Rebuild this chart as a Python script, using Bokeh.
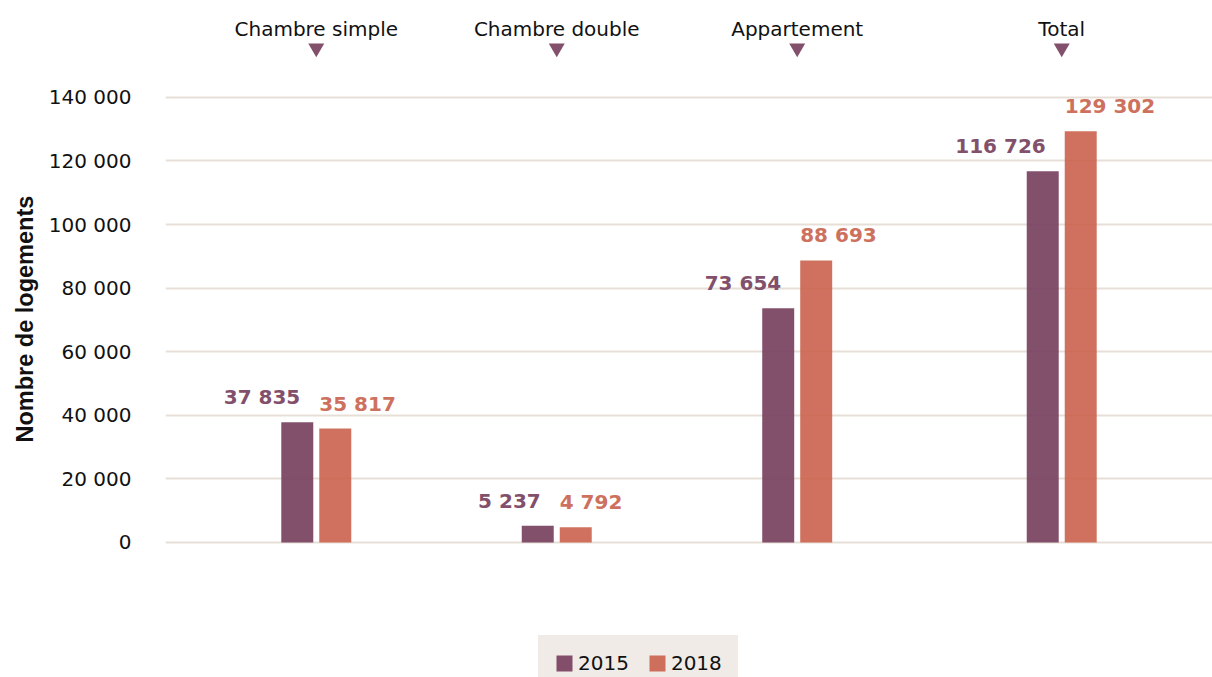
from bokeh.plotting import figure
from bokeh.models import (FactorRange, Range1d, FixedTicker, Legend, LegendItem,
                          ColumnDataSource, Title)
from bokeh.transform import dodge
from bokeh.core.properties import value
from bokeh.embed import file_html
from bokeh.resources import INLINE

# ---------------- data ----------------
categories = ["Chambre simple", "Chambre double", "Appartement", "Total"]
groups = ["Détail", "Détail", "Détail", "Ensemble"]
years = ["2015", "2018"]
values_2015 = [37835, 5237, 73654, 116726]
values_2018 = [35817, 4792, 88693, 129302]
y_ticks = [0, 20000, 40000, 60000, 80000, 100000, 120000, 140000]
y_tick_labels = ["0", "20 000", "40 000", "60 000", "80 000", "100 000",
                 "120 000", "140 000"]
y_title = "Nombre de logements"


def fmt(v):
    return f"{v:,}".replace(",", " ")


factors = list(zip(groups, categories))
src = ColumnDataSource(dict(
    x=factors,
    v15=values_2015,
    v18=values_2018,
    l15=[fmt(v) for v in values_2015],
    l18=[fmt(v) for v in values_2018],
))

# ---------------- styles ----------------
C15_BAR = "#763d5c"
C18_BAR = "#ca624d"
C15_TXT = "#83506b"
C18_TXT = "#cd715e"
GRID = "#e7dfd7"
LEG_BG = "#f0ebe6"
FONT = "DejaVu Sans"

x_range = FactorRange(*factors, group_padding=0.1, range_padding=0.127,
                      range_padding_units="absolute")

p = figure(width=1212, height=677, x_range=x_range,
           y_range=Range1d(-42460, 157880), x_axis_location="above",
           output_backend="svg", toolbar_location=None,
           min_border_left=165, min_border_right=0, min_border_top=40,
           min_border_bottom=0)
p.outline_line_color = None
p.xgrid.grid_line_color = None
p.ygrid.grid_line_color = GRID
p.ygrid.grid_line_width = 2

BAR_W = 0.133
OFF = 0.079

r15 = p.vbar(x=dodge("x", -OFF, range=p.x_range), top="v15", bottom=0,
             width=BAR_W, source=src, fill_color=C15_BAR, fill_alpha=0.9,
             line_color=None)
r18 = p.vbar(x=dodge("x", OFF, range=p.x_range), top="v18", bottom=0,
             width=BAR_W, source=src, fill_color=C18_BAR, fill_alpha=0.9,
             line_color=None)

p.text(x=dodge("x", -OFF, range=p.x_range), y="v15", text="l15", source=src,
       text_align="right", text_baseline="alphabetic", x_offset=3,
       y_offset=-25, text_font=value(FONT), text_font_style="bold",
       text_font_size="20px", text_color=C15_TXT)
p.text(x=dodge("x", OFF, range=p.x_range), y="v18", text="l18", source=src,
       text_align="left", text_baseline="alphabetic", x_offset=-16,
       y_offset=-25, text_font=value(FONT), text_font_style="bold",
       text_font_size="20px", text_color=C18_TXT)

# category markers
p.scatter(x="x", y=155500, source=src, marker="inverted_triangle", size=16,
          fill_color=C15_TXT, line_color=None)

# y axis
p.yaxis.ticker = FixedTicker(ticks=y_ticks)
p.yaxis.major_label_overrides = {t: l for t, l in zip(y_ticks, y_tick_labels)}
p.yaxis.axis_line_color = None
p.yaxis.major_tick_line_color = None
p.yaxis.minor_tick_line_color = None
p.yaxis.major_tick_out = 0
p.yaxis.major_label_standoff = 34
p.yaxis.major_label_text_font = FONT
p.yaxis.major_label_text_font_size = "20px"
p.yaxis.major_label_text_color = "#111111"

# y axis title (placed alongside the value area)
p.add_layout(Title(text=y_title, align="left", offset=235, standoff=16,
                   text_font="Liberation Sans", text_font_style="bold",
                   text_font_size="23.5px", text_color="#111111"), "left")

# x axis (top)
p.xaxis.axis_line_color = None
p.xaxis.major_tick_line_color = None
p.xaxis.major_tick_out = 0
p.xaxis.major_label_standoff = 0
p.xaxis.major_label_text_font = FONT
p.xaxis.major_label_text_font_size = "20px"
p.xaxis.major_label_text_color = "#111111"
p.xaxis.group_text_color = None
p.xaxis.group_text_font_size = "1px"
p.xaxis.separator_line_color = None

legend = Legend(items=[LegendItem(label=years[0], renderers=[r15]),
                       LegendItem(label=years[1], renderers=[r18])],
                orientation="horizontal", location=(373, -14),
                background_fill_color=LEG_BG, background_fill_alpha=1,
                border_line_color=LEG_BG, border_line_width=1,
                padding=15, spacing=18,
                label_standoff=4, glyph_width=20, glyph_height=20,
                label_text_font=FONT, label_text_font_size="20px",
                label_text_color="#111111", margin=0)
p.add_layout(legend, "center")

open("out.html", "w").write(file_html(p, INLINE))
